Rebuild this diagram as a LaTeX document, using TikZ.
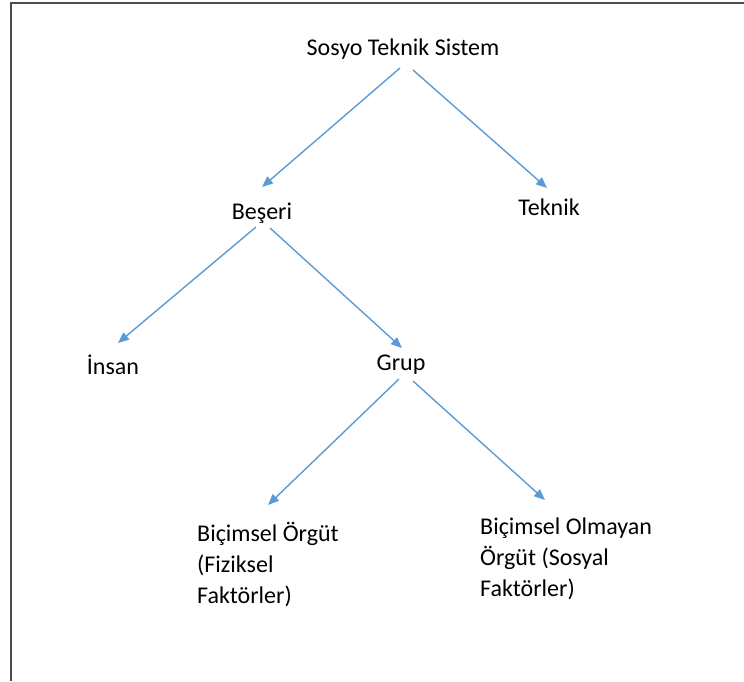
\documentclass[tikz,border=0pt]{standalone}
\usepackage{fontspec}
\setmainfont{Carlito}
\usetikzlibrary{arrows.meta,calc}
\definecolor{arrowblue}{HTML}{5B9BD5}
\definecolor{framegray}{HTML}{4D4D4D}
\begin{document}
\begin{tikzpicture}[x=1pt,y=-1pt,
  lbl/.style={inner sep=0pt, font=\fontsize{24}{31}\selectfont, text=black},
  arr/.style={draw=arrowblue, line width=1.4pt, -{Triangle[length=11pt,width=9pt]}}]
\useasboundingbox (0,0) rectangle (744,681);
\draw[framegray, line width=1.5pt] (11,681) -- (11,3) -- (744,3);
\node[lbl, anchor=base] (top) at (403,55) {Sosyo Teknik Sistem};
\node[lbl, anchor=base] (beseri) at (262,219) {Beşeri};
\node[lbl, anchor=base] (teknik) at (549,215) {Teknik};
\node[lbl, anchor=base] (insan) at (113,374) {İnsan};
\node[lbl, anchor=base] (grup) at (401,370) {Grup};
\node[lbl, anchor=base west, align=left] (bic1) at (197,603) {Biçimsel Örgüt\\(Fiziksel\\Faktörler)};
\node[lbl, anchor=base west, align=left] (bic2) at (480,596) {Biçimsel Olmayan\\Örgüt (Sosyal\\Faktörler)};
\draw[arr] ($(top.base)+(-3,13)$) -- ($(beseri.base)+(0,-32)$);
\draw[arr] ($(top.base)+(10,15)$) -- ($(teknik.base)+(-2,-27)$);
\draw[arr] ($(beseri.base)+(-6,8)$) -- ($(insan.base)+(5,-31)$);
\draw[arr] ($(beseri.base)+(8,9)$) -- ($(grup.base)+(1,-22)$);
\draw[arr] ($(grup.base)+(-2,9)$) -- ($(bic1.base west)+(71,-98)$);
\draw[arr] ($(grup.base)+(12,11)$) -- ($(bic2.base west)+(65,-96)$);
\end{tikzpicture}
\end{document}
